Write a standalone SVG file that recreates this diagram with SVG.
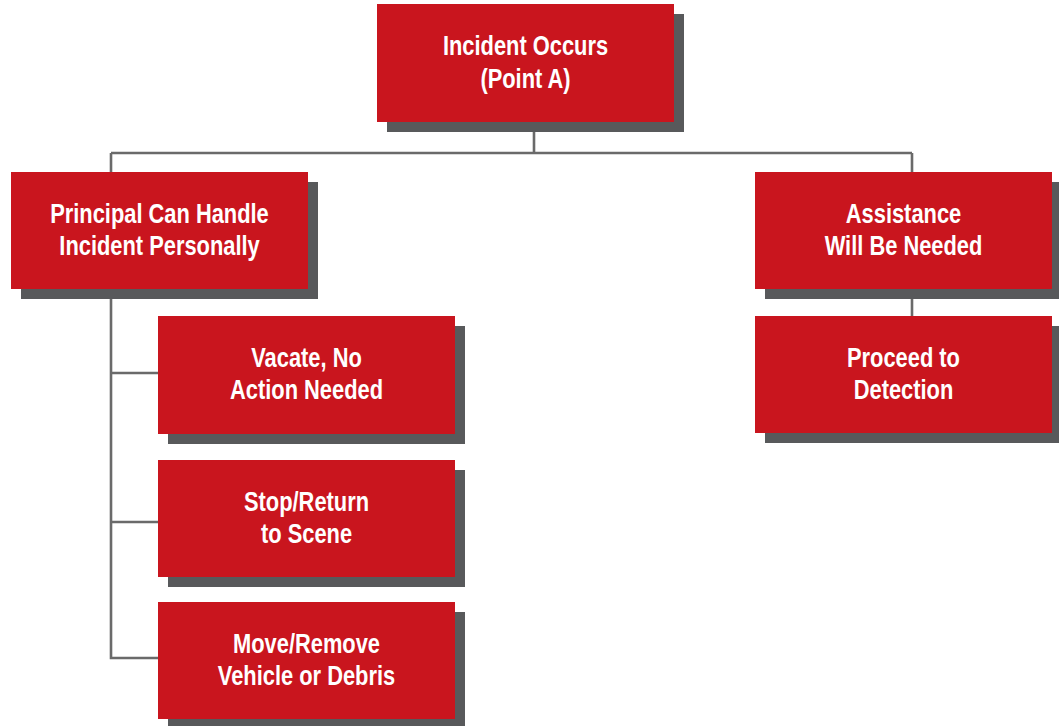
<svg xmlns="http://www.w3.org/2000/svg" width="1059" height="726" viewBox="0 0 1059 726">
<style>
.box{fill:#C9151E}
.sh{fill:#58595B}
.lbl{font-family:"Liberation Sans",Arial,sans-serif;font-weight:bold;font-size:27px;fill:#fff;text-anchor:middle}
.conn{stroke:#6A6A6A;stroke-width:2.6;fill:none}
</style>
<rect width="1059" height="726" fill="#fff"/>
<g id="connectors">
<path class="conn" d="M534 132V153M111 153H912M111 153V172M912 153V172"/>
<path class="conn" d="M111 299V658H158M111 373H158M111 522H158"/>
<path class="conn" d="M912 299V316"/>
</g>
<g id="n-incident">
<rect class="sh" x="387" y="14" width="297" height="118"/>
<rect class="box" x="377" y="4" width="297" height="118"/>
<g transform="translate(525.5,0) scale(0.81,1)"><text class="lbl" x="0" y="55">Incident Occurs</text><text class="lbl" x="0" y="88">(Point A)</text></g>
</g>
<g id="n-principal">
<rect class="sh" x="21" y="182" width="297" height="117"/>
<rect class="box" x="11" y="172" width="297" height="117"/>
<g transform="translate(159.5,0) scale(0.81,1)"><text class="lbl" x="0" y="223">Principal Can Handle</text><text class="lbl" x="0" y="255">Incident Personally</text></g>
</g>
<g id="n-assistance">
<rect class="sh" x="765" y="182" width="297" height="117"/>
<rect class="box" x="755" y="172" width="297" height="117"/>
<g transform="translate(903.5,0) scale(0.81,1)"><text class="lbl" x="0" y="223">Assistance</text><text class="lbl" x="0" y="255">Will Be Needed</text></g>
</g>
<g id="n-proceed">
<rect class="sh" x="765" y="326" width="297" height="117"/>
<rect class="box" x="755" y="316" width="297" height="117"/>
<g transform="translate(903.5,0) scale(0.81,1)"><text class="lbl" x="0" y="367">Proceed to</text><text class="lbl" x="0" y="399">Detection</text></g>
</g>
<g id="n-vacate">
<rect class="sh" x="168" y="326" width="297" height="118"/>
<rect class="box" x="158" y="316" width="297" height="118"/>
<g transform="translate(306.5,0) scale(0.81,1)"><text class="lbl" x="0" y="367">Vacate, No</text><text class="lbl" x="0" y="399">Action Needed</text></g>
</g>
<g id="n-stop">
<rect class="sh" x="168" y="470" width="297" height="117"/>
<rect class="box" x="158" y="460" width="297" height="117"/>
<g transform="translate(306.5,0) scale(0.81,1)"><text class="lbl" x="0" y="511">Stop/Return</text><text class="lbl" x="0" y="543">to Scene</text></g>
</g>
<g id="n-move">
<rect class="sh" x="168" y="612" width="297" height="117"/>
<rect class="box" x="158" y="602" width="297" height="117"/>
<g transform="translate(306.5,0) scale(0.81,1)"><text class="lbl" x="0" y="653">Move/Remove</text><text class="lbl" x="0" y="685">Vehicle or Debris</text></g>
</g>
</svg>
